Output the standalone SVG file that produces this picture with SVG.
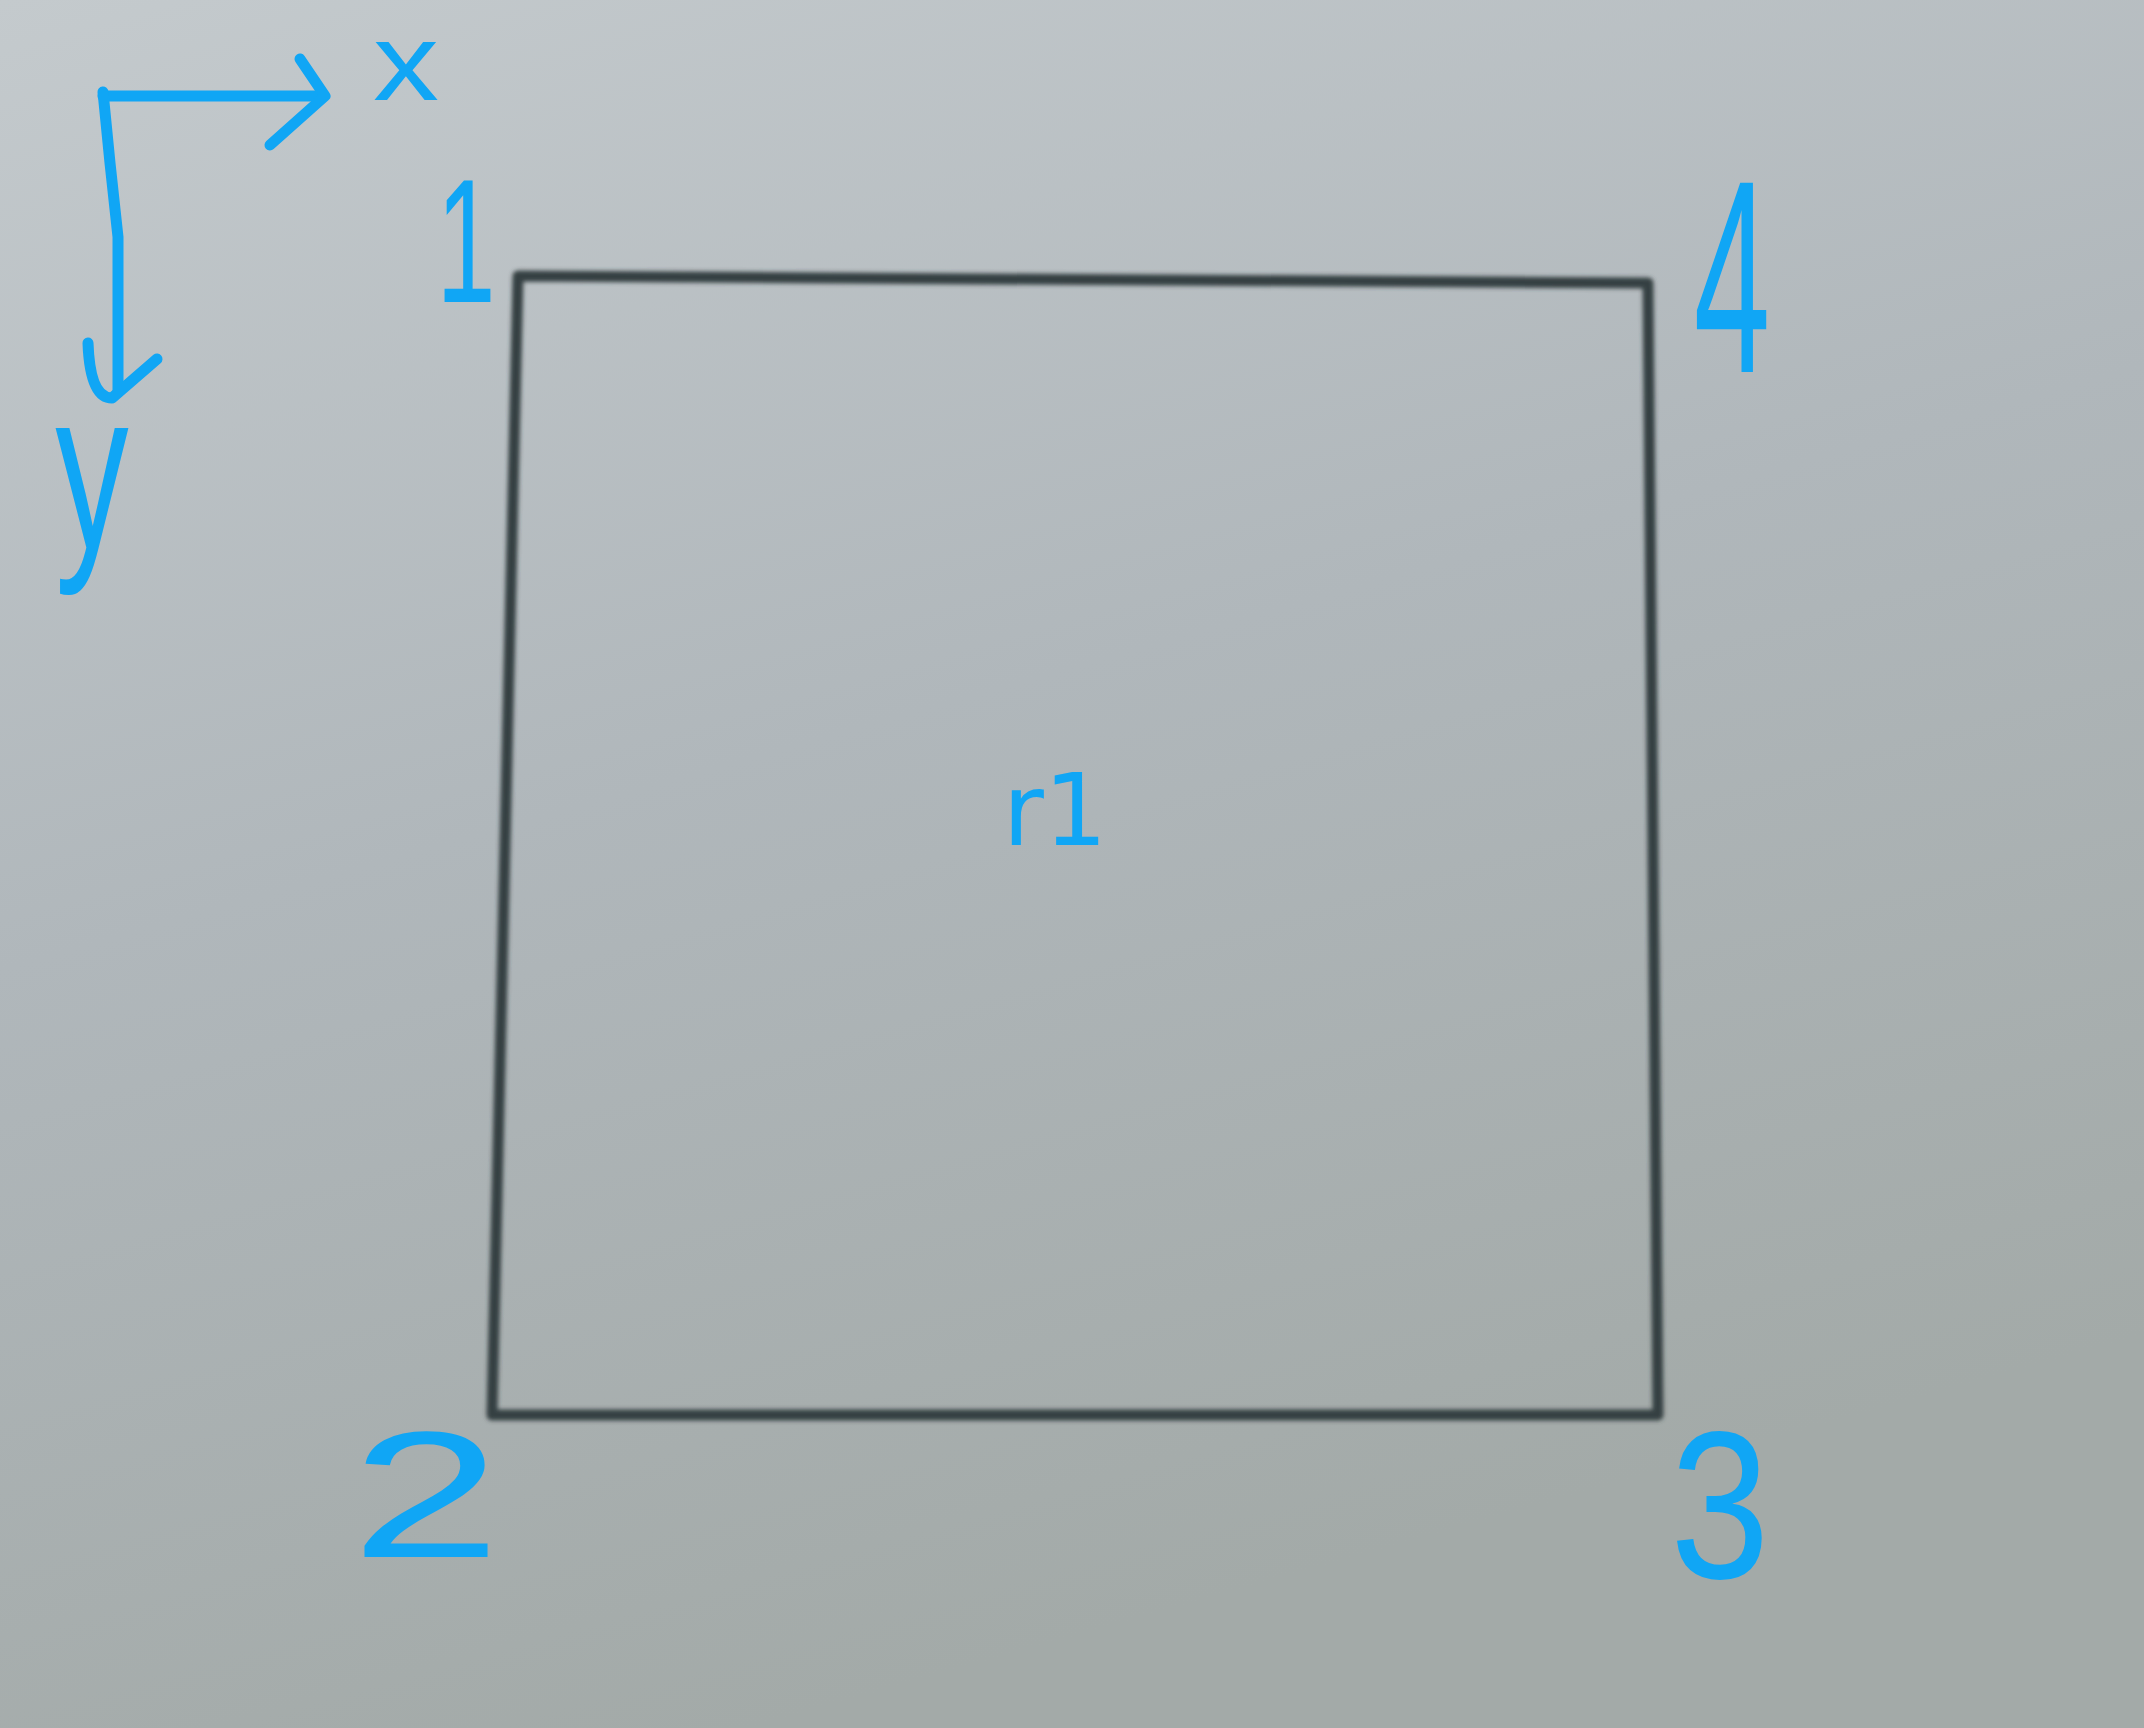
<svg xmlns="http://www.w3.org/2000/svg" width="2144" height="1728" viewBox="0 0 2144 1728">
  <defs>
    <linearGradient id="paper" x1="0" y1="0" x2="0.35" y2="1">
      <stop offset="0" stop-color="#c4cacd"/>
      <stop offset="0.5" stop-color="#b0b7bb"/>
      <stop offset="1" stop-color="#a3aaa8"/>
    </linearGradient>
    <filter id="soft" x="-5%" y="-5%" width="110%" height="110%">
      <feGaussianBlur stdDeviation="2"/>
    </filter>
    <style>
      .ink { fill: none; stroke: #10a6f5; stroke-width: 11; stroke-linecap: round; stroke-linejoin: round; }
      .hand { fill: #10a6f5; font-family: "Liberation Sans", Arial, sans-serif; text-anchor: middle; }
      .lbl { fill: #10a6f5; font-family: "DejaVu Sans", sans-serif; text-anchor: middle; font-size: 100px; }
      .box { fill: none; stroke: #354042; stroke-width: 11; stroke-linejoin: round; }
    </style>
  </defs>
  <rect x="0" y="0" width="2144" height="1728" fill="url(#paper)"/>

  <g id="r1">
    <path class="box" filter="url(#soft)" d="M518,276 L1648,283 L1658,1415 L492,1415 Z"/>
    <text class="lbl" x="1055" y="845">r1</text>
  </g>

  <g id="corner-labels">
    <text id="label-1" class="hand" font-size="177" transform="translate(466,302) scale(0.6,1)" x="0" y="0">1</text>
    <text id="label-2" class="hand" font-size="180" transform="translate(426,1557) scale(1.5,1)" x="0" y="0">2</text>
    <text id="label-3" class="hand" font-size="210" transform="translate(1720,1578) scale(0.85,1)" x="0" y="0">3</text>
    <text id="label-4" class="hand" font-size="275" transform="translate(1732,372) scale(0.5,1)" x="0" y="0">4</text>
  </g>

  <g id="axis-labels">
    <text id="label-x" class="hand" font-size="110" transform="translate(406,100) scale(1.2,1)" x="0" y="0">x</text>
    <text id="label-y" class="hand" font-size="226" transform="translate(92,548) scale(0.65,1)" x="0" y="0">y</text>
  </g>

  <g id="connectors">
    <path class="ink" d="M103,96 H323"/>
    <path class="ink" d="M300,59 L325,96 L270,145"/>
    <path class="ink" d="M103,92 L110,163 L118,237 L118,392"/>
    <path class="ink" d="M88,343 Q90,398 112,398 L157,359"/>
  </g>
</svg>
